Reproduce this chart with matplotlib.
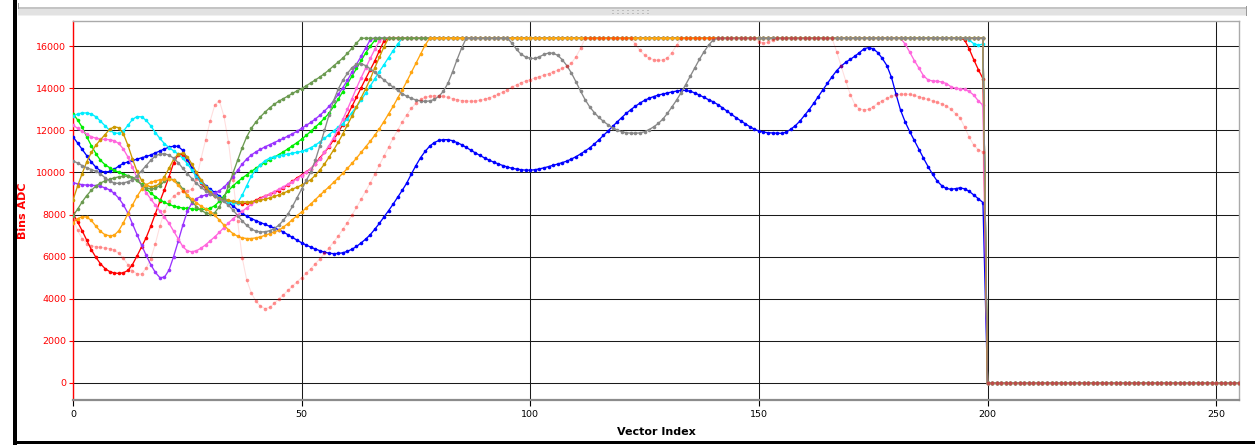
import matplotlib
matplotlib.use("Agg")
import matplotlib.pyplot as plt
from matplotlib.patches import Rectangle

# ---------------------------------------------------------------------------
# Data: 256-sample ADC vectors, saturating at 16383, zero after index 199
# ---------------------------------------------------------------------------
SAT = 16383
N = 256
ZEROS = [0] * 56
vector_index = list(range(N))

blue = [
    11700, 11400, 11100, 10800, 10500, 10250, 10080, 10020, 10050, 10150,
    10300, 10430, 10500, 10570, 10630, 10700, 10760, 10830, 10930, 11020,
    11120, 11200, 11250, 11240, 11050, 10650, 10220, 9870, 9600, 9380,
    9200, 9050, 8880, 8720, 8570, 8400, 8230, 8060, 7920, 7810,
    7710, 7620, 7530, 7440, 7360, 7280, 7170, 7040, 6910, 6780,
    6660, 6550, 6450, 6360, 6280, 6210, 6160, 6140, 6150, 6180,
    6250, 6350, 6480, 6650, 6830, 7040, 7300, 7580, 7880, 8180,
    8490, 8820, 9150, 9500, 9930, 10330, 10700, 11000, 11250, 11420,
    11520, 11560, 11560, 11510, 11420, 11320, 11190, 11060, 10930, 10810,
    10690, 10590, 10490, 10410, 10330, 10260, 10200, 10160, 10130, 10110,
    10110, 10130, 10170, 10220, 10280, 10340, 10400, 10470, 10540, 10640,
    10750, 10880, 11020, 11170, 11350, 11550, 11760, 11970, 12190, 12400,
    12610, 12810, 12990, 13150, 13300, 13430, 13530, 13610, 13680, 13730,
    13780, 13830, 13870, 13900, 13900, 13860, 13780, 13680, 13570, 13460,
    13360, 13230, 13080, 12920, 12760, 12610, 12460, 12320, 12180, 12060,
    11970, 11920, 11890, 11880, 11870, 11860, 11920, 12060, 12230, 12450,
    12720, 12990, 13290, 13610, 13930, 14240, 14550, 14840, 15060, 15240,
    15380, 15530, 15700, 15880, 15940, 15880, 15700, 15420, 15080, 14520,
    13720, 12950, 12400, 11940, 11520, 11090, 10680, 10280, 9910, 9590,
    9370, 9240, 9200, 9230, 9270, 9220, 9100, 8930, 8750, 8570,
] + ZEROS

red = [
    8050, 7650, 7230, 6780, 6330, 5970, 5660, 5430, 5290, 5220,
    5200, 5230, 5340, 5620, 6030, 6460, 6900, 7440, 8030, 8620,
    9190, 9800, 10450, 10840, 10850, 10600, 10220, 9820, 9500, 9220,
    9010, 8860, 8760, 8700, 8640, 8580, 8540, 8520, 8530, 8580,
    8680, 8790, 8880, 8960, 9050, 9140, 9270, 9420, 9580, 9740,
    9880, 10030, 10180, 10420, 10700, 10950, 11220, 11560, 11900, 12280,
    12700, 13140, 13580, 14020, 14460, 14880, 15300, 15790, 16250,
] + [SAT] * 126 + [16300, 15870, 15360, 14890, 14460] + ZEROS

green = [
    12800, 12500, 12150, 11700, 11280, 10900, 10580, 10370, 10230, 10100,
    10010, 9930, 9850, 9760, 9630, 9440, 9230, 9020, 8850, 8700,
    8580, 8480, 8400, 8350, 8310, 8290, 8270, 8250, 8240, 8250,
    8300, 8420, 8620, 8880, 9140, 9360, 9560, 9730, 9890, 10050,
    10200, 10340, 10470, 10600, 10730, 10850, 10980, 11120, 11270, 11420,
    11580, 11760, 11960, 12160, 12360, 12580, 12820, 13140, 13480, 13840,
    14210, 14580, 14960, 15330, 15680, 16000, 16280,
] + [SAT] * 133 + ZEROS

cyan = [
    12680, 12780, 12830, 12830, 12780, 12650, 12440, 12220, 12010, 11880,
    11860, 11960, 12240, 12520, 12660, 12640, 12480, 12220, 11900, 11620,
    11370, 11180, 11030, 10870, 10680, 10420, 10110, 9800, 9550, 9330,
    9120, 8940, 8800, 8690, 8610, 8550, 8560, 8920, 9380, 9830,
    10130, 10370, 10560, 10680, 10750, 10800, 10840, 10880, 10920, 10960,
    11000, 11080, 11180, 11300, 11450, 11620, 11800, 11980, 12150, 12320,
    12560, 12850, 13130, 13440, 13770, 14110, 14460, 14800, 15120, 15460,
    15790, 16100,
] + [SAT] * 124 + [16300, 16120, 16060, 16100] + ZEROS

purple = [
    9520, 9460, 9420, 9400, 9390, 9380, 9340, 9270, 9170, 9010,
    8780, 8470, 8070, 7560, 7040, 6540, 6060, 5620, 5250, 5000,
    5020, 5360, 6000, 6720, 7480, 8150, 8550, 8760, 8860, 8930,
    8980, 9030, 9130, 9300, 9520, 9800, 10100, 10400, 10640, 10830,
    10980, 11100, 11220, 11320, 11420, 11520, 11620, 11730, 11840, 11960,
    12100, 12240, 12380, 12540, 12720, 12920, 13140, 13410, 13710, 14030,
    14380, 14760, 15130, 15520, 15920, 16300,
] + [SAT] * 134 + ZEROS

pink = [
    12250, 12100, 11950, 11830, 11700, 11630, 11590, 11570, 11560, 11510,
    11380, 11120, 10740, 10240, 9760, 9380, 9040, 8740, 8450, 8160,
    7880, 7580, 7220, 6850, 6480, 6270, 6230, 6280, 6400, 6560,
    6750, 6940, 7150, 7380, 7600, 7800, 7980, 8150, 8320, 8480,
    8620, 8750, 8870, 8980, 9090, 9200, 9320, 9440, 9570, 9700,
    9850, 10010, 10180, 10400, 10650, 10950, 11280, 11660, 12070, 12520,
    13000, 13500, 14020, 14500, 14960, 15420, 15850, 16250,
] + [SAT] * 114 + [
    16100, 15720, 15320, 14960, 14600, 14400, 14350, 14340, 14300, 14230,
    14080, 14000, 13980, 13950, 13850, 13680, 13400, 13200,
] + ZEROS

goldenrod = [
    8690, 9350, 9950, 10500, 10950, 11300, 11550, 11800, 12050, 12170,
    12130, 11850, 11300, 10650, 10050, 9620, 9400, 9320, 9350, 9480,
    9800, 10200, 10620, 10880, 10920, 10750, 10400, 10000, 9650, 9330,
    9060, 8880, 8770, 8700, 8670, 8630, 8610, 8600, 8600, 8610,
    8640, 8680, 8730, 8790, 8860, 8930, 9020, 9110, 9210, 9300,
    9400, 9530, 9660, 9860, 10120, 10400, 10730, 11070, 11430, 11830,
    12250, 12680, 13110, 13550, 13980, 14440, 14980, 15480, 15970,
] + [SAT] * 131 + ZEROS

olive = [
    7950, 8250, 8600, 8900, 9150, 9350, 9500, 9600, 9680, 9740,
    9790, 9820, 9820, 9760, 9620, 9420, 9270, 9220, 9240, 9380,
    9580, 9700, 9660, 9500, 9220, 8900, 8620, 8380, 8200, 8080,
    8040, 8090, 8370, 8800, 9350, 9980, 10580, 11180, 11700, 12100,
    12400, 12650, 12870, 13070, 13240, 13390, 13510, 13630, 13760, 13880,
    13990, 14120, 14260, 14400, 14540, 14700, 14880, 15070, 15250, 15440,
    15660, 15900, 16150,
] + [SAT] * 137 + ZEROS

orange = [
    7620, 7800, 7900, 7880, 7720, 7450, 7200, 7040, 6990, 7010,
    7230, 7600, 8040, 8450, 8860, 9200, 9420, 9530, 9600, 9650,
    9690, 9700, 9620, 9400, 9140, 8920, 8730, 8560, 8400, 8270,
    8140, 7960, 7740, 7500, 7270, 7090, 6970, 6890, 6860, 6860,
    6890, 6940, 7010, 7090, 7170, 7250, 7400, 7570, 7760, 7950,
    8120, 8310, 8500, 8710, 8920, 9120, 9320, 9530, 9740, 9960,
    10190, 10430, 10680, 10950, 11220, 11480, 11770, 12080, 12420, 12780,
    13140, 13530, 13920, 14330, 14760, 15190, 15620, 16050,
] + [SAT] * 122 + ZEROS

gray = [
    10550, 10450, 10330, 10230, 10140, 10060, 9930, 9750, 9600, 9500,
    9480, 9500, 9560, 9660, 9840, 10080, 10330, 10580, 10780, 10880,
    10890, 10820, 10680, 10470, 10200, 9950, 9710, 9480, 9290, 9130,
    8990, 8870, 8750, 8620, 8440, 8210, 7950, 7700, 7480, 7310,
    7210, 7170, 7180, 7230, 7330, 7490, 7720, 8020, 8390, 8800,
    9210, 9620, 10020, 10580, 11280, 12000, 12740, 13420, 13960, 14380,
    14710, 14980, 15150, 15180, 15080, 14930, 14760, 14580, 14400, 14220,
    14060, 13900, 13750, 13620, 13520, 13450, 13400, 13380, 13400, 13470,
    13620, 13860, 14240, 14780, 15370, 15920,
] + [SAT] * 10 + [
    16150, 15850, 15620, 15490, 15430, 15420, 15500, 15610, 15680, 15670,
    15570, 15360, 15080, 14730, 14310, 13870, 13460, 13120, 12850, 12620,
    12430, 12270, 12130, 12020, 11940, 11890, 11870, 11870, 11880, 11940,
    12040, 12170, 12330, 12540, 12810, 13120, 13440, 13800, 14180, 14580,
    14980, 15380, 15740, 16050, 16300,
] + [SAT] * 59 + ZEROS

salmon = [
    7800, 7250, 6850, 6620, 6520, 6470, 6440, 6410, 6380, 6310,
    6160, 5920, 5620, 5330, 5180, 5170, 5450, 5900, 6600, 7450,
    8150, 8620, 8880, 9020, 9100, 9140, 9200, 9700, 10650, 11550,
    12450, 13200, 13420, 12680, 11450, 9650, 7700, 5950, 4880, 4270,
    3880, 3640, 3530, 3580, 3780, 3980, 4180, 4390, 4600, 4800,
    5000, 5210, 5430, 5660, 5900, 6150, 6420, 6690, 6980, 7290,
    7620, 7970, 8340, 8720, 9110, 9500, 9920, 10350, 10780, 11200,
    11620, 12020, 12400, 12750, 13050, 13300, 13470, 13570, 13620, 13650,
    13650, 13620, 13570, 13510, 13460, 13420, 13400, 13390, 13400, 13430,
    13480, 13550, 13630, 13720, 13820, 13940, 14060, 14170, 14270, 14350,
    14420, 14490, 14560, 14630, 14700, 14780, 14860, 14950, 15050, 15200,
    15500, 15900,
] + [SAT] * 11 + [
    16100, 15800, 15580, 15440, 15360, 15330, 15350, 15450, 15700, 16050,
] + [SAT] * 17 + [16220, 16150, 16180, 16300] + [SAT] * 13 + [
    15750, 15050, 14350, 13700, 13230, 13020, 12980, 13000, 13130, 13280,
    13410, 13520, 13620, 13680, 13720, 13730, 13710, 13660, 13600, 13540,
    13470, 13400, 13330, 13260, 13170, 13000, 12800, 12600, 12150, 11680,
    11300, 11080, 10980,
] + ZEROS

# Draw order (later series sit on top)
series = [
    (red, "#ff0000"),
    (blue, "#0000ff"),
    (green, "#00ee00"),
    (cyan, "#00eeff"),
    (purple, "#9933ff"),
    (pink, "#ff66dd"),
    (goldenrod, "#cc9900"),
    (olive, "#6b9a50"),
    (orange, "#ffa510"),
    (gray, "#888888"),
]
for values, _ in series:
    assert len(values) == N
assert len(salmon) == N

y_ticks = list(range(0, 16001, 2000))
x_ticks = [0, 50, 100, 150, 200, 250]

# ---------------------------------------------------------------------------
# Figure
# ---------------------------------------------------------------------------
W, H = 1255, 445
fig = plt.figure(figsize=(W / 100, H / 100), dpi=100)
fig.patch.set_facecolor("white")


def px_rect(x0, y0, x1, y1, color, z=0):
    """Rectangle given in pixel coordinates measured from the top-left."""
    fig.patches.append(Rectangle((x0 / W, 1 - y1 / H), (x1 - x0) / W, (y1 - y0) / H,
                                 transform=fig.transFigure, facecolor=color,
                                 edgecolor="none", zorder=z))


# window chrome: splitter bar on top, dark frame left and bottom
px_rect(18, 7, 1247, 16, "#e2e2e2")
px_rect(18, 7, 1247, 8.5, "#c4c4c4")
px_rect(18, 15, 1247, 16, "#f0f0f0")
px_rect(13, 0, 17, H, "#000000", 5)
px_rect(13, 441, W, 444, "#000000", 5)
px_rect(18, 3, 19, 9, "#999999")
px_rect(1245.5, 6, 1246.5, 16, "#999999")
for k in range(8):
    px_rect(612 + 5 * k, 10, 614 + 5 * k, 11, "#bdbdbd")
    px_rect(612 + 5 * k, 12.5, 614 + 5 * k, 13.5, "#bdbdbd")

left, right, top, bottom = 73, 1239, 21, 400
ax = fig.add_axes([left / W, 1 - bottom / H, (right - left) / W, (bottom - top) / H])

for values, color in series:
    ax.plot(vector_index, values, color=color, lw=0.95, marker="o", ms=2.6,
            mew=0, zorder=3)

# translucent red trace: faint line, stronger dots
ax.plot(vector_index, salmon, color="#ff0000", lw=0.8, alpha=0.13, zorder=3)
ax.plot(vector_index, salmon, color="#ff0000", lw=0, marker="o", ms=2.6,
        mew=0, alpha=0.42, zorder=3)

ax.set_xlim(0, 255)
ax.set_ylim(-819, 17202)
ax.set_xticks(x_ticks)
ax.set_yticks(y_ticks)
ax.grid(True, color="#1a1a1a", lw=0.75, zorder=1)
ax.set_axisbelow(True)

for side in ("top", "right"):
    ax.spines[side].set_color("#aaaaaa")
    ax.spines[side].set_linewidth(1.0)
ax.spines["bottom"].set_color("#8c8c8c")
ax.spines["bottom"].set_linewidth(1.6)
ax.spines["left"].set_color("#ff0000")
ax.spines["left"].set_linewidth(1.0)

ax.tick_params(axis="y", colors="#ff0000", labelcolor="#ff0000", labelsize=6.8,
               length=3, width=0.8, pad=2)
ax.tick_params(axis="x", colors="#000000", labelsize=6.8, length=4, width=0.8, pad=3)

ax.set_ylabel("Bins ADC", color="#ff0000", fontsize=8, fontweight="bold",
              family="DejaVu Sans")
ax.yaxis.set_label_coords(-0.039, 0.5)
ax.set_xlabel("Vector Index", color="#000000", fontsize=8, fontweight="bold",
              family="DejaVu Sans")
ax.xaxis.set_label_coords(0.5, -0.07)

fig.savefig("out.png", dpi=100, facecolor="white")
